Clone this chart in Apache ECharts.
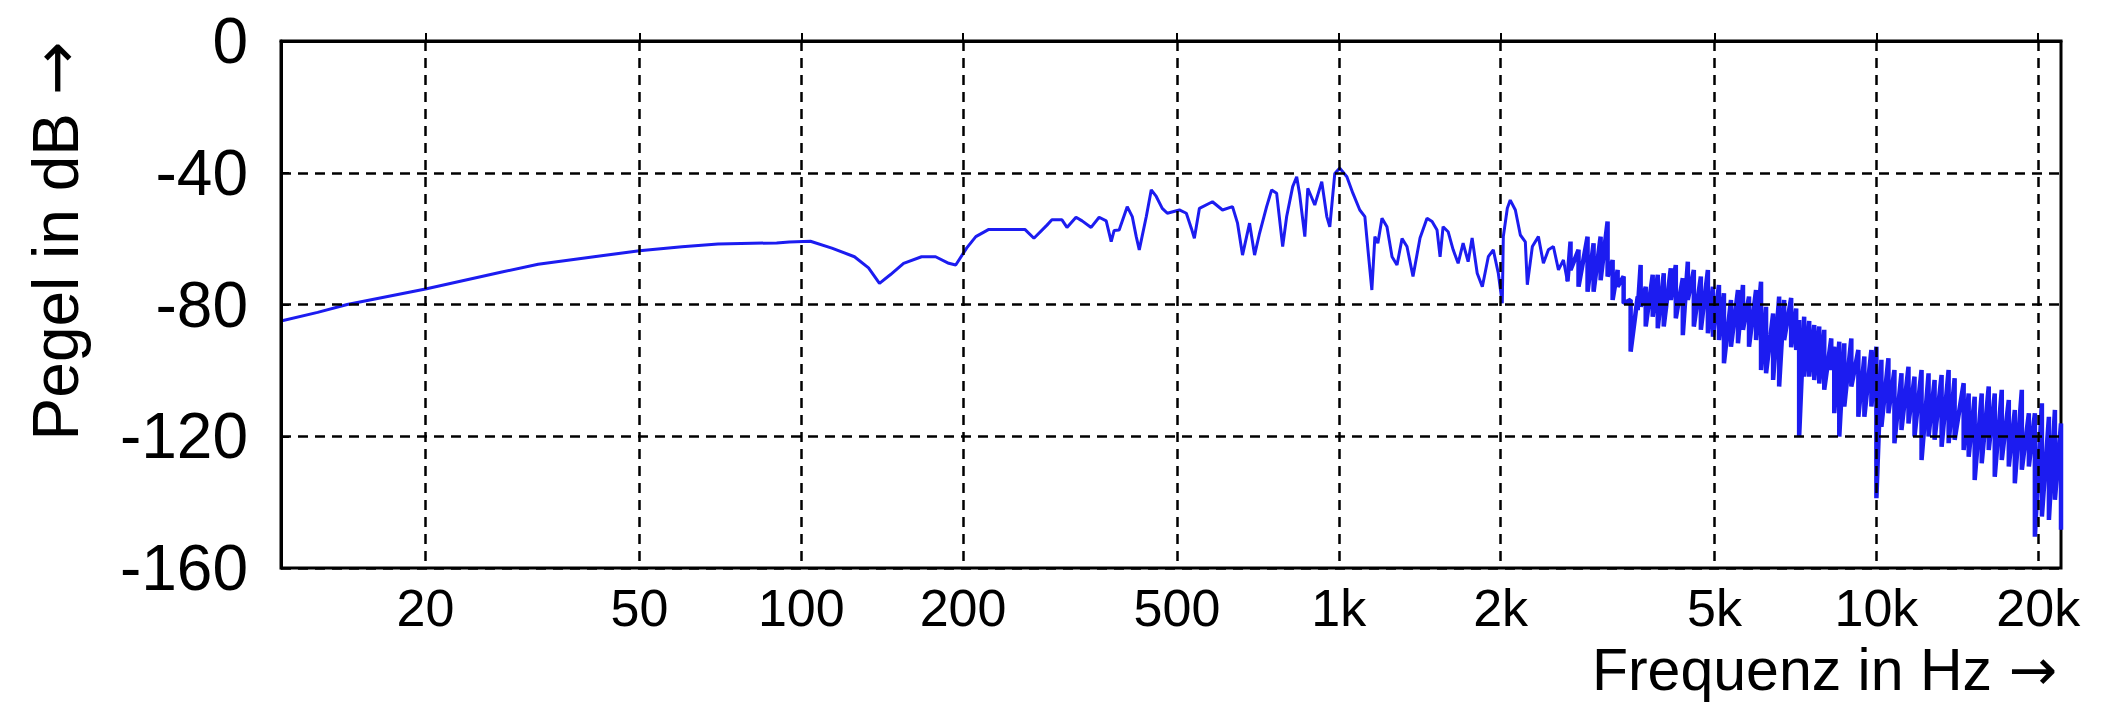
<!DOCTYPE html>
<html>
<head>
<meta charset="utf-8">
<title>Spektrum</title>
<script src="https://cdn.jsdelivr.net/npm/echarts@6.0.0/dist/echarts.min.js"></script>
<style>
	html, body { margin: 0; padding: 0; background: #fff; }
	#chart { width: 2103px; height: 705px; }
</style>
</head>
<body>
<div id="chart"></div>
<script>
// Frequenzgang (Pegel in dB) - Werte aus dem Bild abgelesen
// bis ca. 2,6 kHz ein einzelner Verlauf
var lowFreq = [10.77, 12.6, 14.3, 20, 27.6, 32.4, 42.5, 50, 60, 70, 90, 95, 104,
	114, 125.6, 133.4, 139.8, 146.6, 155, 167.4, 177.8, 188.1, 193.8,
	203.2, 211.2, 223.3, 260.6, 270.9, 286.5, 292.6, 305.5, 312.1, 324.4,
	333, 346.1, 358.2, 369.2, 377.2, 382, 390.3, 404, 412.8, 419.9,
	425.4, 438.4, 447.8, 457.5, 469.4, 479.7, 505.1, 520.4, 531.8, 538.6,
	550.4, 582, 607.6, 634.2, 648, 662, 682.3, 697.1, 712.3, 734,
	749.9, 766.1, 786.2, 799.8, 820.7, 834.9, 845.7, 864.5, 875.6, 902.1,
	929.5, 949.8, 962.1, 982.9, 1004, 1035, 1062, 1094, 1118, 1133,
	1152, 1167, 1182, 1203, 1229, 1256, 1283, 1311, 1339, 1374,
	1416, 1459, 1491, 1523, 1543, 1563, 1597, 1632, 1667, 1703,
	1740, 1770, 1809, 1849, 1897, 1938, 1980, 2014, 2023, 2058,
	2084, 2130, 2176, 2223, 2242, 2291, 2351, 2402, 2454, 2507,
	2562, 2617, 2663];
var lowLevel = [-85, -82.4, -80, -75.3, -70.2, -67.8, -65.2, -63.7, -62.5, -61.6, -61.3, -61, -60.8,
	-62.9, -65.5, -68.9, -73.6, -70.9, -67.5, -65.5, -65.5, -67.5, -68,
	-62.8, -59.4, -57.2, -57.2, -59.9, -55.9, -54.3, -54.3, -56.6, -53.5,
	-54.6, -56.6, -53.5, -54.6, -60.9, -57.5, -57.4, -50.3, -53.3, -59.4,
	-63.4, -53.3, -45.2, -47.2, -50.8, -52.3, -51.3, -52.3, -56.9, -59.9,
	-50.8, -48.8, -51.3, -50.3, -55.3, -65, -55.3, -65, -58.3, -50.3,
	-45.2, -46.2, -62.4, -53.3, -44.2, -41.2, -46.7, -59.4, -44.7, -49.8,
	-42.7, -53.3, -56.4, -40.2, -38.6, -41.2, -46.2, -51.3, -53.3, -63.4,
	-75.6, -59.4, -61.4, -53.8, -56.4, -65.5, -68, -60, -62.4, -71.5,
	-59.8, -53.8, -54.8, -57.4, -65.5, -56.4, -57.9, -63.4, -67.5, -61.4,
	-67, -59.8, -70.5, -74.6, -65.5, -63.4, -70.5, -79.6, -59.4, -50.8,
	-48.3, -51.3, -58.9, -61, -74, -62.4, -59.4, -67.5, -63.4, -62.4,
	-69.5, -66.5, -73];

// darueber sehr dicht: je Frequenzbereich Maximum und Minimum
var hiFreq = [2698, 2792, 2902, 2978, 3069, 3162, 3231, 3301, 3387, 3490,
	3597, 3643, 3723, 3836, 3920, 4022, 4145, 4235, 4364, 4459,
	4575, 4715, 4859, 4965, 5095, 5205, 5364, 5527, 5647, 5795,
	5972, 6101, 6234, 6425, 6593, 6736, 6941, 7092, 7183, 7339,
	7499, 7662, 7828, 7998, 8242, 8349, 8530, 8715, 8982, 9256,
	9498, 9788, 10000, 10217, 10529, 10803, 11134, 11474, 11774, 12134,
	12504, 12831, 13222, 13626, 13981, 14532, 14848, 15235, 15700, 16180,
	16602, 17109, 17632, 18092, 18644, 19214, 19716, 20317, 20937, 21483, 22050];
var hiMax = [-60.9, -63.4, -59.4, -61.4, -59.4, -54.8, -66.5, -69.5, -71.5, -78.6,
	-77.6, -68, -74.6, -71, -71, -70.5, -69, -68, -72, -67,
	-69.5, -71.5, -69.5, -74.6, -74.1, -76.6, -78.6, -75.6, -74.1, -77.6,
	-75.6, -73.1, -80.7, -82.7, -77.6, -78.6, -78, -81.2, -84.7, -83.7,
	-85, -86.2, -86.7, -87.7, -90.3, -92.8, -91.3, -91.8, -90.3, -93.8,
	-95.8, -93.8, -92.8, -96.8, -96.3, -99.9, -100.9, -98.9, -101.9, -99.9,
	-100.9, -102.9, -101.4, -99.9, -102.4, -103.9, -107, -108, -107, -104.9,
	-107, -105.9, -109, -112, -105.9, -113, -113, -110, -114.1, -112, -116.1];
var hiMin = [-69.5, -74.6, -76.1, -76.1, -72.6, -71.5, -78.6, -74.6, -79.6, -94.3,
	-81.7, -80.7, -86.7, -83.7, -87.2, -86.7, -78.6, -84.2, -89.3, -78.6,
	-86.7, -87.7, -88.7, -89.8, -90.8, -97.8, -92.8, -91.8, -87.7, -92.8,
	-90.8, -99.9, -100.9, -102.9, -104.9, -90.8, -93, -93.8, -120.1, -101.9,
	-101.9, -102.9, -104, -105.9, -99.9, -113, -120.1, -111, -104.9, -114.1,
	-114.1, -111, -138.8, -117.1, -113, -122.1, -118.1, -116.1, -120.1, -127.2,
	-120.1, -121.1, -123.2, -122.1, -121.1, -124.2, -126.2, -133.3, -128.2, -124.2,
	-132.3, -127.2, -129.2, -134.3, -130.2, -129.2, -150.5, -144.4, -145.4, -139.3, -148.4];

// Achsenbeschriftung
var xTicks = [20, 50, 100, 200, 500, 1000, 2000, 5000, 10000, 20000];
var fMin = 10.77, fMax = 22050;

var lowData = lowFreq.map(function (f, i) { return [f, lowLevel[i]]; });
// dichter Teil beginnt am letzten Punkt des einfachen Verlaufs
var hiData = [lowData[lowData.length - 1]];
hiFreq.forEach(function (f, i) {
	hiData.push([f, hiMax[i]]);
	hiData.push([f, hiMin[i]]);
});

var font = 'Liberation Sans, Arial, sans-serif';
var blue = '#1c1cf0';
var gridLine = { color: '#000', width: 2.5, type: [10, 7] };

var myChart = echarts.init(document.getElementById('chart'), null, { renderer: 'svg' });
var option = {
	animation: false,
	backgroundColor: '#fff',
	grid: {
		left: 281, right: 42, top: 41, bottom: 137,
		show: true, borderColor: '#000', borderWidth: 3
	},
	xAxis: {
		type: 'log',
		logBase: 10,
		min: fMin,
		max: fMax,
		z: 5,
		axisLine: { show: true, lineStyle: { color: '#000', width: 3 } },
		axisTick: { show: true, inside: true, length: 8, customValues: xTicks, lineStyle: { color: '#000', width: 2 } },
		axisLabel: {
			customValues: xTicks,
			color: '#000', fontSize: 52, lineHeight: 52, fontFamily: font, margin: 14,
			formatter: function (v) { return v >= 1000 ? (v / 1000) + 'k' : String(v); }
		},
		splitLine: { show: true, lineStyle: gridLine },
		minorTick: { show: false },
		minorSplitLine: { show: false }
	},
	yAxis: {
		type: 'value',
		min: -160,
		max: 0,
		interval: 40,
		z: 5,
		axisLine: { show: true, lineStyle: { color: '#000', width: 3 } },
		axisTick: { show: true, inside: true, length: 8, lineStyle: { color: '#000', width: 2 } },
		axisLabel: { color: '#000', fontSize: 64, fontFamily: font, margin: 33 },
		splitLine: { show: true, lineStyle: gridLine }
	},
	graphic: [{
		type: 'text',
		x: 56, y: 241,
		rotation: Math.PI / 2,
		style: {
			text: 'Pegel in dB {a|\u2192}', fill: '#000', font: '64px ' + font, lineHeight: 64,
			align: 'center', verticalAlign: 'middle',
			rich: { a: { fontFamily: 'DejaVu Sans', fontSize: 64, lineHeight: 64, verticalAlign: 'middle' } }
		}
	}, {
		type: 'text',
		x: 2057, y: 670,
		style: {
			text: 'Frequenz in Hz {a|\u2192}', fill: '#000', font: '59px ' + font, lineHeight: 56,
			align: 'right', verticalAlign: 'middle',
			rich: { a: { fontFamily: 'DejaVu Sans', fontSize: 58, lineHeight: 56, verticalAlign: 'middle' } }
		}
	}],
	series: [{
		type: 'line',
		data: lowData,
		showSymbol: false,
		symbol: 'none',
		lineStyle: { color: blue, width: 3 },
		z: 2
	}, {
		type: 'line',
		data: hiData,
		showSymbol: false,
		symbol: 'none',
		lineStyle: { color: blue, width: 4.5, join: 'bevel' },
		z: 2
	}]
};
myChart.setOption(option);
</script>
</body>
</html>
